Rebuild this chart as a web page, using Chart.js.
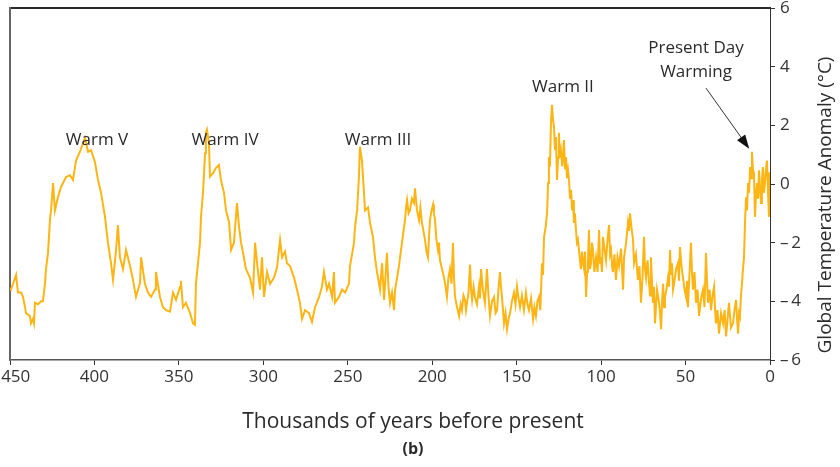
<!DOCTYPE html>
<html>
<head>
<meta charset="utf-8">
<script src="https://cdn.jsdelivr.net/npm/chart.js@4/dist/chart.umd.min.js"></script>
<style>
  html, body { margin: 0; padding: 0; background: #fff; }
  #wrap { width: 840px; height: 467px; }
</style>
</head>
<body>
<div id="wrap"><canvas id="graficoTemperatura" width="840" height="467"></canvas></div>
<script>
// thousands of years before present
var idades = [
  450.0, 449.4, 448.2, 447.0, 446.4, 445.3, 443.5, 442.3, 441.1, 440.5, 438.2, 437.6, 436.4, 435.8, 435.2, 433.4,
  431.6, 430.5, 429.3, 428.7, 427.5, 426.3, 425.7, 424.5, 423.4, 421.6, 419.8, 416.8, 414.5, 412.7, 410.9, 408.6,
  405.6, 403.8, 402.0, 399.7, 397.9, 396.1, 393.8, 392.0, 390.2, 389.0, 387.2, 386.1, 384.9, 383.1, 381.3, 378.9,
  377.2, 375.4, 373.0, 372.4, 370.1, 368.3, 366.5, 364.1, 363.6, 361.2, 359.4, 357.6, 355.3, 353.5, 351.7, 349.3,
  348.8, 347.6, 345.8, 343.4, 341.6, 340.5, 339.9, 338.7, 337.5, 336.9, 335.7, 334.5, 334.0, 333.4, 332.2, 331.6,
  329.8, 328.0, 326.3, 325.1, 323.3, 322.1, 320.3, 319.1, 317.4, 315.6, 314.4, 313.2, 312.0, 310.3, 307.9, 306.1,
  304.9, 303.7, 302.0, 300.8, 299.6, 297.8, 296.0, 293.7, 291.9, 290.1, 288.9, 287.2, 286.0, 284.2, 281.8, 280.1,
  278.3, 277.1, 275.3, 273.0, 271.2, 269.4, 267.0, 265.3, 264.1, 262.3, 261.1, 259.3, 258.2, 257.6, 255.2, 253.4,
  251.6, 249.3, 248.7, 246.3, 245.7, 244.5, 243.4, 242.8, 241.6, 240.4, 239.8, 238.0, 236.8, 235.1, 233.9, 232.7,
  230.9, 229.7,
  228.5, 227.6, 226.8, 225.9, 225.0, 223.8, 222.6, 222.0, 220.8, 219.7,
  218.8, 217.9, 217.0, 216.1, 215.5, 214.9, 214.0, 213.2, 212.0, 210.8,
  210.2, 209.0, 207.8, 207.0, 206.1, 205.2, 204.3, 203.4, 202.5, 201.9,
  201.3, 200.4, 199.5, 199.0, 198.4, 197.5, 196.6, 196.0, 195.4, 194.2,
  193.0, 192.1, 191.3, 190.4, 189.5, 188.6, 187.7, 187.1, 186.5, 185.3,
  184.1, 183.2, 182.4, 181.5, 180.6, 180.0, 179.4, 178.5, 177.6, 177.0,
  176.4, 175.5, 174.7, 173.5, 172.3, 171.7, 171.1, 170.0, 168.8, 168.2,
  167.6, 166.7, 165.8, 164.6, 163.4, 162.5, 161.6, 160.8, 159.9, 159.3,
  158.7, 158.1, 157.5, 156.6, 155.7, 154.8, 153.9, 152.8, 151.6, 150.7,
  149.8, 148.9, 148.0, 146.9, 145.7, 145.1, 144.5, 143.6, 142.7, 141.5,
  140.3, 139.5, 138.6, 137.7,
  136.8, 136.0, 135.0, 134.4, 133.8, 132.9, 132.0, 131.4, 130.9, 130.3,
  129.7, 129.1, 128.5, 127.9, 127.3, 126.7, 126.1, 125.5, 125.0, 124.4,
  123.8, 123.0, 122.0, 121.4, 120.8, 120.2, 119.6, 119.0, 118.4, 117.8,
  117.2, 116.6, 116.1, 115.5, 114.9, 114.3, 113.7, 113.1, 112.0, 111.3,
  110.7, 110.1, 109.5, 108.9, 108.3, 107.8, 107.2, 106.6, 106.0, 105.4,
  104.8, 104.0, 103.0, 102.1, 101.2, 100.6, 100.1, 99.5, 98.9, 98.0,
  97.1, 96.2, 95.3, 94.7, 94.1, 93.5, 93.0, 92.1, 91.2, 90.3,
  89.4, 88.2, 87.0, 86.4, 85.2, 84.1, 83.5, 82.9, 82.0, 81.1,
  80.5, 79.4, 78.2, 77.3, 76.4, 75.5, 74.6, 74.0, 73.4, 72.5,
  71.6, 71.0, 70.5, 69.9, 69.3, 68.7, 68.1, 66.9, 65.7, 65.1,
  64.5, 63.9, 63.3, 62.7, 62.2, 61.3, 60.4, 59.8, 59.2, 58.6,
  58.0, 57.4, 56.8, 55.6, 54.5, 53.9, 53.3, 52.4, 51.5, 50.6,
  49.7, 49.1, 48.6, 47.7, 46.8, 46.2, 45.6, 44.7, 43.8, 42.9,
  42.0, 40.8, 39.7, 38.8, 37.9, 37.3, 36.7, 35.8, 34.9, 34.0,
  33.1, 32.5, 32.0, 31.1, 30.2, 29.0, 27.8, 26.9, 26.0, 25.1,
  24.3, 23.1, 21.9, 21.0, 20.1, 19.5, 18.9, 18.3, 17.8, 17.2,
  16.6, 16.0, 15.4, 14.8, 14.2, 13.6, 13.0, 12.4, 11.8, 11.2,
  10.7, 10.1, 9.5, 9.2, 8.9, 8.3, 7.7, 7.1, 6.5, 5.9,
  5.3, 4.8, 4.2, 3.6, 3.0, 2.4, 1.8, 1.2, 0.6, 0.3,
  0.0
];

// global temperature anomaly (°C)
var anomalias = [
  -3.55, -3.6, -3.4, -3.2, -3.1, -3.7, -3.7, -3.85, -4.2, -4.4, -4.5, -4.75, -4.6, -4.75, -4.05, -4.1,
  -4.0, -4.0, -3.4, -2.9, -2.35, -1.2, -0.9, 0.03, -0.9, -0.45, -0.1, 0.24, 0.3, 0.14, 0.8, 1.1,
  1.57, 1.1, 1.15, 0.75, 0.14, -0.3, -1.1, -2.0, -2.7, -3.27, -2.25, -1.4, -2.5, -2.9, -2.25, -2.8,
  -3.27, -3.85, -3.37, -2.5, -3.4, -3.7, -3.85, -3.6, -3.0, -3.85, -4.2, -4.3, -4.35, -3.7, -3.95, -3.5,
  -3.3, -4.2, -4.05, -4.4, -4.75, -4.8, -3.4, -2.7, -2.0, -1.1, -0.3, 1.05, 1.75, 1.85, 1.4, 0.25,
  0.37, 0.55, 0.65, 0.14, -0.3, -0.9, -1.3, -2.25, -2.0, -0.65, -1.45, -2.0, -2.35, -2.9, -3.2, -3.7,
  -2.0, -2.7, -3.6, -2.5, -3.85, -3.0, -3.4, -3.2, -2.85, -1.9, -2.5, -2.3, -2.7, -2.8, -3.2, -3.6,
  -4.05, -4.6, -4.3, -4.4, -4.7, -4.2, -3.85, -3.5, -3.0, -3.6, -3.4, -3.85, -3.0, -4.05, -3.85, -3.6,
  -3.7, -3.4, -2.8, -2.0, -1.45, -0.9, 0.24, 1.27, 0.8, -0.3, -0.9, -0.8, -1.33, -1.8, -2.5, -3.0,
  -3.6, -2.7,
  -3.95, -3.1, -2.35, -3.5, -4.05, -3.7, -4.3, -3.6, -3.2, -2.8,
  -2.4, -2.0, -1.6, -1.23, -0.8, -0.55, -1.0, -0.9, -0.5, -0.65,
  -0.15, -0.9, -1.23, -0.8, -1.33, -1.6, -1.9, -2.3, -2.5, -1.8,
  -1.23, -0.9, -0.7, -1.0, -1.2, -1.9, -2.25, -2.0, -2.6, -2.9,
  -3.2, -3.5, -3.85, -3.2, -2.9, -3.4, -2.0, -3.2, -3.85, -4.2,
  -4.5, -4.1, -4.3, -3.8, -3.95, -4.3, -4.05, -3.7, -2.75, -3.6,
  -3.95, -3.5, -3.85, -4.1, -3.5, -3.9, -2.9, -3.6, -4.05, -3.5,
  -2.9, -3.8, -4.5, -4.0, -3.85, -4.4, -4.3, -3.6, -3.0, -3.5,
  -3.85, -4.3, -4.75, -4.4, -4.95, -4.6, -4.4, -4.0, -3.7, -4.1,
  -3.5, -3.9, -4.2, -3.8, -4.3, -4.0, -3.7, -4.1, -4.3, -3.9,
  -4.6, -4.2, -4.5, -4.0,
  -3.85, -4.3, -2.7, -3.1, -1.8, -1.5, -1.0, 0.03, 0.92, 0.6,
  2.08, 2.7, 2.2, 1.95, 1.15, 1.6, 0.14, 0.9, 1.75, 0.9,
  1.15, 0.6, 1.5, 0.5, 0.92, 0.2, 0.47, 0.14, -0.5, -0.2,
  -0.9, -0.55, -1.33, -1.0, -1.57, -2.0, -1.9, -2.25, -2.9, -2.3,
  -2.7, -2.9, -2.3, -3.85, -3.0, -2.7, -1.57, -2.9, -2.7, -2.0,
  -2.25, -3.0, -2.5, -3.0, -1.57, -2.7, -2.5, -3.0, -1.8, -2.2,
  -2.6, -1.9, -1.4, -2.4, -2.25, -2.8, -3.0, -2.4, -3.27, -2.5,
  -2.8, -2.2, -3.6, -2.5, -2.0, -1.33, -1.6, -1.0, -1.5, -1.9,
  -2.7, -2.4, -3.27, -2.8, -4.05, -3.2, -1.8, -2.9, -3.2, -2.6,
  -3.4, -3.8, -2.5, -3.3, -4.05, -3.5, -4.75, -3.6, -4.05, -4.4,
  -4.95, -4.0, -3.4, -4.2, -3.85, -3.6, -3.2, -3.5, -2.25, -3.1,
  -2.7, -3.6, -3.4, -2.9, -2.7, -3.3, -2.15, -2.8, -3.2, -3.6,
  -3.85, -3.3, -4.2, -3.1, -2.0, -3.0, -3.6, -3.0, -4.05, -3.6,
  -4.5, -3.9, -3.6, -4.2, -2.35, -3.3, -4.05, -3.6, -4.3, -3.8,
  -3.5, -4.3, -4.75, -4.3, -5.1, -4.4, -4.75, -4.3, -5.2, -4.6,
  -4.05, -4.9, -4.75, -4.3, -3.95, -4.6, -5.1, -4.4, -4.5, -3.8,
  -3.4, -2.9, -2.5, -1.33, -0.45, -0.9, 0.03, -0.3, 0.58, 0.2,
  1.1, 0.5, 0.37, -0.3, -1.12, -0.4, 0.03, -0.5, 0.47, -0.2,
  -0.65, 0.1, 0.58, -0.3, 0.03, 0.5, 0.8, -0.2, -1.12, 0.4,
  -0.2
];

if (idades.length !== anomalias.length) {
  throw new Error('idades ' + idades.length + ' != anomalias ' + anomalias.length);
}

var rotulosQuentes = ['Warm V', 'Warm IV', 'Warm III', 'Warm II', 'Present Day', 'Warming'];
var rotulosIdade = [398.5, 322.7, 232.1, 122.6, 43.8, 43.8];
var rotulosTemp = [1.5, 1.5, 1.5, 3.3, 4.64, 3.82];

var fonte = '"Open Sans", "Noto Sans", sans-serif';

function formatarTemp(v) {
  return v < 0 ? '\u2013\u2009' + Math.abs(v) : '' + v;
}

function formatarIdade(v) {
  // o primeiro rotulo fica recolhido para dentro da figura
  return v === 450 ? '\u2007\u200A' + v : '' + v;
}

var anotacoes = {
  id: 'anotacoes',
  afterDraw: function(chart) {
    var ctx = chart.ctx;
    var x = chart.scales.x, y = chart.scales.y;
    ctx.save();
    ctx.fillStyle = '#2b2b2b';
    ctx.textAlign = 'center';
    ctx.textBaseline = 'middle';
    ctx.font = '17px ' + fonte;
    rotulosQuentes.forEach(function(txt, i) {
      ctx.fillText(txt, x.getPixelForValue(rotulosIdade[i]), y.getPixelForValue(rotulosTemp[i]));
    });

    // seta para o aquecimento atual
    var x1 = x.getPixelForValue(37.9), y1 = y.getPixelForValue(3.27);
    var x2 = x.getPixelForValue(12.3), y2 = y.getPixelForValue(1.2);
    var ang = Math.atan2(y2 - y1, x2 - x1);
    ctx.strokeStyle = '#333';
    ctx.lineWidth = 1;
    ctx.beginPath();
    ctx.moveTo(x1, y1);
    ctx.lineTo(x2 - 10 * Math.cos(ang), y2 - 10 * Math.sin(ang));
    ctx.stroke();
    ctx.fillStyle = '#111';
    ctx.beginPath();
    ctx.moveTo(x2, y2);
    ctx.lineTo(x2 - 14 * Math.cos(ang) + 5 * Math.sin(ang), y2 - 14 * Math.sin(ang) - 5 * Math.cos(ang));
    ctx.lineTo(x2 - 14 * Math.cos(ang) - 5 * Math.sin(ang), y2 - 14 * Math.sin(ang) + 5 * Math.cos(ang));
    ctx.closePath();
    ctx.fill();

    // titulos
    ctx.fillStyle = '#2b2b2b';
    ctx.font = '21px ' + fonte;
    ctx.fillText('Thousands of years before present', 413, 422);
    ctx.font = 'bold 16px ' + fonte;
    ctx.fillText('(b)', 413, 449);
    ctx.translate(826, 205);
    ctx.rotate(-Math.PI / 2);
    ctx.font = '19px ' + fonte;
    ctx.fillText('Global Temperature Anomaly (\u00B0C)', 0, 0);
    ctx.restore();
  }
};

var pontos = idades.map(function(a, i) { return { x: a, y: anomalias[i] }; });

function semSobra(s) {
  s.paddingLeft = 0; s.paddingRight = 0; s.paddingTop = 0; s.paddingBottom = 0;
}

var grafico = new Chart(document.getElementById('graficoTemperatura').getContext('2d'), {
  type: 'line',
  data: {
    datasets: [{
      label: 'Temperature anomaly',
      data: pontos,
      xAxisID: 'x',
      yAxisID: 'y',
      borderColor: '#FDB515',
      borderWidth: 2,
      pointRadius: 0,
      tension: 0,
      fill: false
    }]
  },
  options: {
    responsive: false,
    animation: false,
    layout: { padding: 0 },
    plugins: { legend: { display: false }, tooltip: { enabled: false } },
    scales: {
      x: {
        type: 'linear', position: 'bottom', reverse: true, min: 0, max: 450,
        ticks: { stepSize: 50, color: '#333', font: { family: fonte, size: 17 }, padding: 2, maxRotation: 0, callback: formatarIdade },
        grid: { display: true, drawOnChartArea: false, tickLength: 5, color: '#333' },
        border: { color: '#555', width: 1.5 },
        afterFit: function(s) { semSobra(s); s.height = 107; }
      },
      xTopo: {
        type: 'linear', position: 'top', reverse: true, min: 0, max: 450,
        ticks: { display: false }, grid: { display: false },
        border: { color: '#2a2a2a', width: 2 },
        afterFit: function(s) { semSobra(s); s.height = 8; }
      },
      yEsq: {
        type: 'linear', position: 'left', min: -6, max: 6,
        ticks: { display: false }, grid: { display: false },
        border: { color: '#666', width: 2 },
        afterFit: function(s) { semSobra(s); s.width = 10; }
      },
      y: {
        type: 'linear', position: 'right', min: -6, max: 6,
        ticks: { stepSize: 2, color: '#333', font: { family: fonte, size: 17 }, padding: 5, callback: formatarTemp },
        grid: { display: true, drawOnChartArea: false, tickLength: 5, color: '#333' },
        border: { color: '#333', width: 1 },
        afterFit: function(s) { semSobra(s); s.width = 70; }
      }
    }
  },
  plugins: [anotacoes]
});
</script>
</body>
</html>
